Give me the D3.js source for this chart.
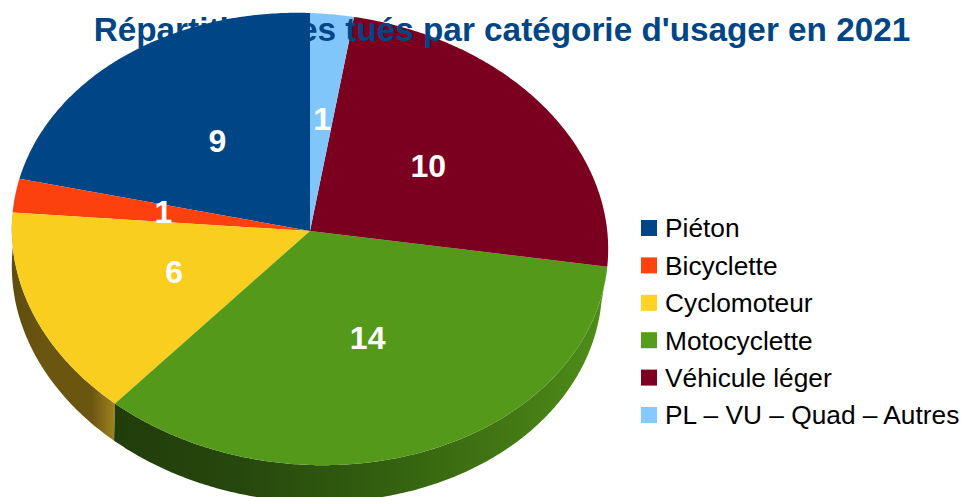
<!DOCTYPE html>
<html>
<head>
<meta charset="utf-8">
<script src="https://cdn.jsdelivr.net/npm/d3@7"></script>
<style>
  html, body { margin: 0; padding: 0; background: #fff; overflow: hidden; }
  text { font-family: "Liberation Sans", Arial, sans-serif; }
</style>
</head>
<body>
<svg id="chart"></svg>
<script>
const categories = ["Piéton", "Bicyclette", "Cyclomoteur", "Motocyclette", "Véhicule léger", "PL – VU – Quad – Autres"];
const values = [9, 1, 6, 14, 10, 1];
const topColors = ["#004586", "#fd410e", "#f9ce1f", "#55991b", "#7b0020", "#80c6fb"];
const legendColors = ["#004586", "#ff420e", "#ffd320", "#579d1c", "#7e0021", "#83caff"];
const chartTitle = "Répartition des tués par catégorie d'usager en 2021";

const width = 962, height = 497;
const svg = d3.select("#chart").attr("width", width).attr("height", height);

const color = d3.scaleOrdinal().domain(categories).range(topColors);

// angles go anticlockwise from the top, like the original
const pie = d3.pie().value((d, i) => values[i]).sort(null).startAngle(0).endAngle(-2 * Math.PI);
const slices = pie(categories);

// fake 3D: perspective on a flat disc plus a small shear
const top3d = { cx: 310, cy: 231, rx: 298, ry: 225.7, persp: 0.0354, shear: 0.033, dy: 0 };
const base3d = { cx: 307, cy: 231, rx: 295, ry: 225.7, persp: 0.0354, shear: 0.033, dy: 37 };

function project(g, a, r) {
  const u = r * Math.sin(a), v = r * Math.cos(a);
  const d = 1 + g.persp * v;
  const x = g.rx * u / d;
  return [g.cx + x, g.cy + g.dy - g.ry * v / d + g.shear * x];
}

function rimAngles(s) {
  const n = Math.ceil(Math.abs(s.endAngle - s.startAngle) / 0.01);
  return d3.range(n + 1).map(i => s.startAngle + (s.endAngle - s.startAngle) * i / n);
}

const line = d3.line();
const defs = svg.append("defs");

// wall shading, only two walls can be seen
const wallStops = {
  "Cyclomoteur": [[0, "#5f4c0e"], [0.3, "#6b5610"], [0.78, "#6b5610"], [1, "#9c8220"]],
  "Motocyclette": [[0, "#213d0b"], [0.25, "#26470d"], [0.55, "#33600f"], [0.85, "#467d15"], [1, "#4f8f19"]]
};
const wallRange = { "Cyclomoteur": [12, 114], "Motocyclette": [113, 608] };

Object.keys(wallStops).forEach((name, i) => {
  const grad = defs.append("linearGradient")
    .attr("id", "wall" + i)
    .attr("gradientUnits", "userSpaceOnUse")
    .attr("x1", wallRange[name][0]).attr("x2", wallRange[name][1])
    .attr("y1", 0).attr("y2", 0);
  grad.selectAll("stop")
    .data(wallStops[name])
    .join("stop")
    .attr("offset", d => d[0])
    .attr("stop-color", d => d[1]);
});

const walls = slices.filter(s => wallStops[s.data]);

svg.append("g")
  .selectAll("path")
  .data(walls)
  .join("path")
  .attr("d", s => {
    const angles = rimAngles(s);
    const upper = angles.map(a => project(top3d, a, 1));
    const lower = angles.slice().reverse().map(a => project(base3d, a, 1));
    return line(upper.concat(lower)) + "Z";
  })
  .attr("fill", s => "url(#wall" + Object.keys(wallStops).indexOf(s.data) + ")");

svg.append("g")
  .selectAll("path")
  .data(slices)
  .join("path")
  .attr("d", s => {
    const pts = rimAngles(s).map(a => project(top3d, a, 1));
    return line([project(top3d, 0, 0)].concat(pts)) + "Z";
  })
  .attr("fill", s => color(s.data));

svg.append("g")
  .selectAll("text")
  .data(slices)
  .join("text")
  .attr("x", s => project(top3d, (s.startAngle + s.endAngle) / 2, 0.5)[0] + 1)
  .attr("y", s => project(top3d, (s.startAngle + s.endAngle) / 2, 0.5)[1])
  .attr("dy", "0.3em")
  .attr("text-anchor", "middle")
  .attr("font-size", 32)
  .attr("font-weight", "bold")
  .attr("fill", "#fff")
  .text(s => s.value);

svg.append("text")
  .attr("x", 502)
  .attr("y", 41)
  .attr("text-anchor", "middle")
  .attr("font-size", 33.3)
  .attr("font-weight", "bold")
  .attr("fill", "#004586")
  .text(chartTitle);

// legend
const legendY = d3.scalePoint().domain(categories).range([228, 415]);

const legend = svg.append("g")
  .selectAll("g")
  .data(categories)
  .join("g")
  .attr("transform", d => `translate(641,${legendY(d)})`);

legend.append("rect")
  .attr("y", -8)
  .attr("width", 16)
  .attr("height", 16)
  .attr("fill", (d, i) => legendColors[i]);

legend.append("text")
  .attr("x", 24)
  .attr("dy", "0.36em")
  .attr("font-size", 26.3)
  .attr("fill", "#000")
  .text(d => d);
</script>
</body>
</html>
